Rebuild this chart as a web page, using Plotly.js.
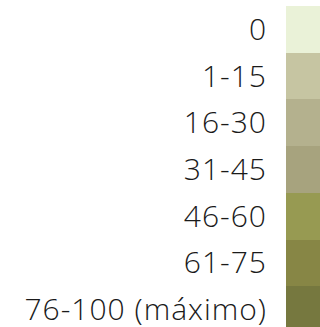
<!DOCTYPE html>
<html>
<head>
<meta charset="utf-8">
<script src="https://cdn.plot.ly/plotly-3.0.1.min.js"></script>
<style>html,body{margin:0;padding:0;background:#fff;}#chart{width:320px;height:327px;}
.ytick text{letter-spacing:1px;}</style>
</head>
<body>
<div id="chart"></div>
<script>
const categories = ["0", "1-15", "16-30", "31-45", "46-60", "61-75", "76-100 (máximo)"];
const swatchValues = [1, 1, 1, 1, 1, 1, 1];
const swatchColors = ["#EAF2D8", "#C6C5A2", "#B4B18E", "#A7A37E", "#979A52", "#878645", "#76783F"];

const trace = {
  type: "bar",
  orientation: "h",
  y: categories,
  x: swatchValues,
  marker: {color: swatchColors, line: {width: 0}},
  width: 1,
  hoverinfo: "none"
};

const layout = {
  width: 320,
  height: 327,
  margin: {l: 286, r: 0, t: 6, b: 0, pad: 0},
  paper_bgcolor: "#fff",
  plot_bgcolor: "#fff",
  showlegend: false,
  bargap: 0,
  xaxis: {range: [0, 1], visible: false, fixedrange: true},
  yaxis: {
    type: "category",
    range: [6.37, -0.5],
    showgrid: false,
    zeroline: false,
    showline: false,
    ticks: "outside",
    ticklen: 12,
    tickcolor: "rgba(0,0,0,0)",
    automargin: false,
    tickfont: {family: "'Open Sans', sans-serif", size: 30, weight: 300, color: "#1a1a1a"}
  }
};

Plotly.newPlot("chart", [trace], layout, {staticPlot: true, displayModeBar: false});
</script>
</body>
</html>
